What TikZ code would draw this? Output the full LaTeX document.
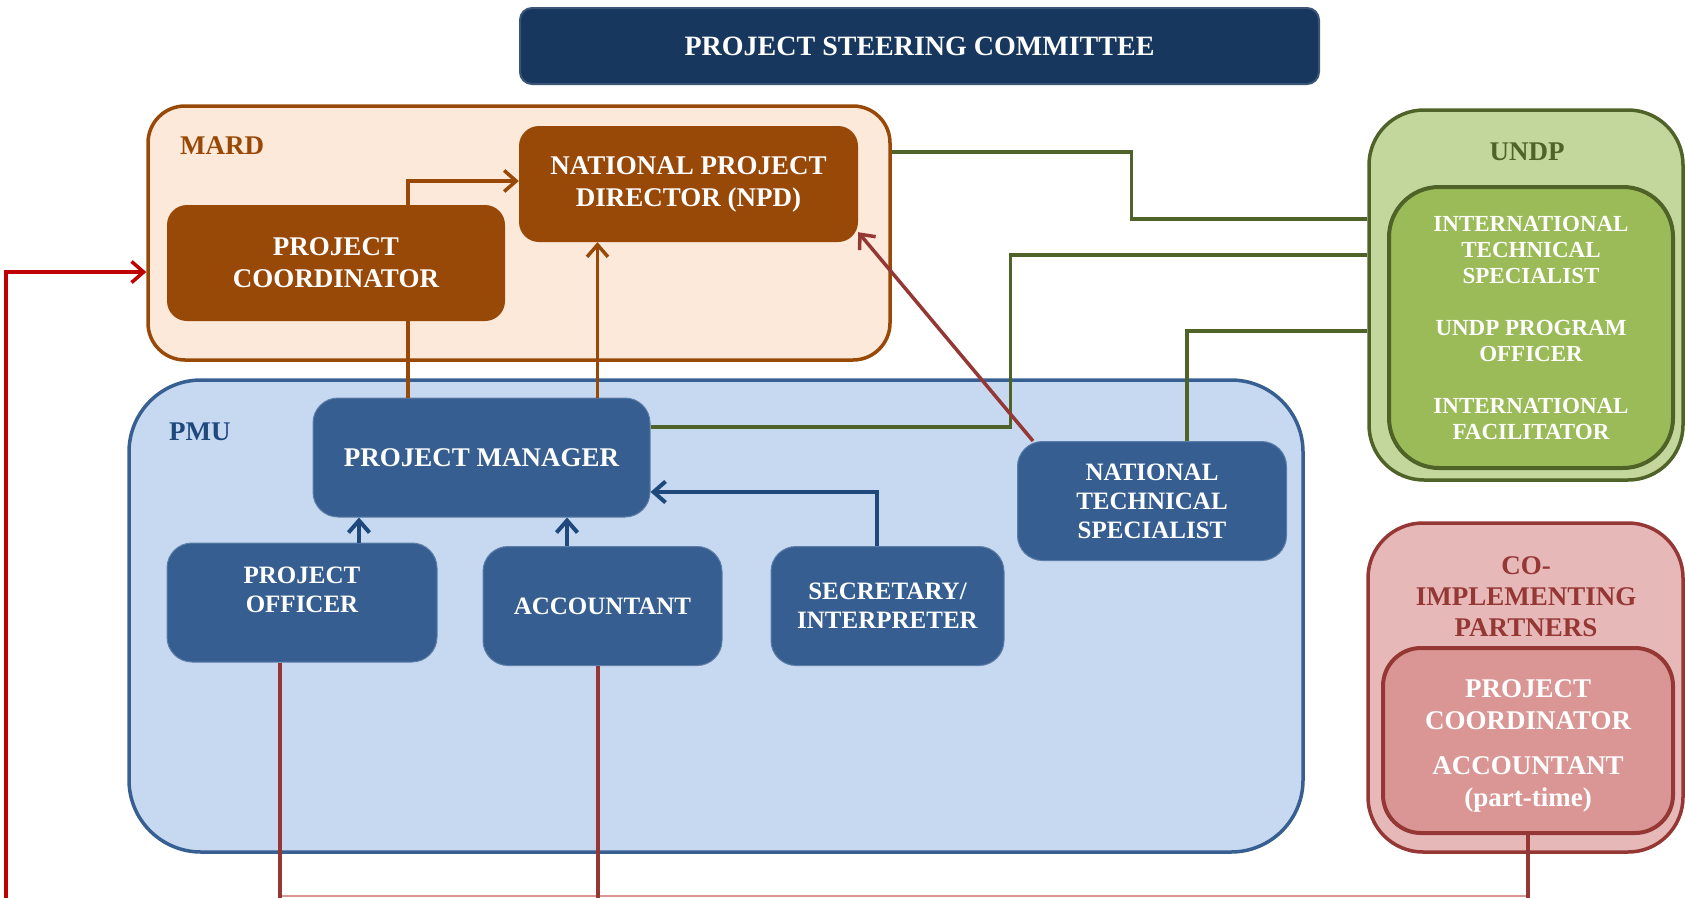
\documentclass[tikz,border=0pt]{standalone}
\usepackage{fontspec}
\setmainfont{Liberation Serif}
\usetikzlibrary{arrows.meta, positioning, calc}

\definecolor{navy}{RGB}{23,55,94}
\definecolor{brn}{RGB}{152,72,7}
\definecolor{peach}{RGB}{253,233,217}
\definecolor{pmufill}{RGB}{198,217,241}
\definecolor{pmuline}{RGB}{56,95,145}
\definecolor{bluebox}{RGB}{54,94,145}
\definecolor{dblu}{RGB}{31,73,125}
\definecolor{grn}{RGB}{79,98,40}
\definecolor{undpout}{RGB}{195,214,155}
\definecolor{undpin}{RGB}{155,187,89}
\definecolor{cored}{RGB}{149,55,53}
\definecolor{coout}{RGB}{230,185,184}
\definecolor{coin}{RGB}{217,150,148}
\definecolor{brightred}{RGB}{192,0,0}

\begin{document}
\begin{tikzpicture}[x=1pt, y=-1pt,
  >={Straight Barb[length=12pt,width=21pt]},
  grp/.style={inner sep=0pt, align=center, font=\fontsize{27}{31}\selectfont\bfseries},
  grpbox/.style={inner sep=0pt, line width=3.5pt},
  unit/.style={inner sep=0pt, align=center, text=white, font=\fontsize{27}{32}\selectfont\bfseries},
  mardbox/.style={unit, fill=brn, rounded corners=20pt, minimum width=338pt, minimum height=116pt},
  pmubox/.style={unit, fill=bluebox, draw=bluebox!80!white, line width=1pt, rounded corners=25pt, minimum height=119pt},
  small/.style={font=\fontsize{25}{29}\selectfont\bfseries},
  link/.style={line width=3.5pt},
  brnlink/.style={link, draw=brn},
  grnlink/.style={link, draw=grn},
  blulink/.style={link, line width=4pt, draw=dblu},
  drdlink/.style={link, draw=cored},
  pnklink/.style={line width=2pt, draw=coin},
  redlink/.style={link, draw=brightred}]
  \useasboundingbox (0,0) rectangle (1685,897);
  \clip (0,0) rectangle (1685,897);

  \node[unit, fill=navy, draw=navy!85!white, line width=2pt, rounded corners=12pt,
        minimum width=799pt, minimum height=76pt, font=\fontsize{28}{32}\selectfont\bfseries]
        (psc) at (919.5,46) {PROJECT STEERING COMMITTEE};

  \node[grpbox, draw=brn, fill=peach, rounded corners=37pt, minimum width=742pt, minimum height=254pt] (mard) at (519,233) {};
  \node[grpbox, draw=pmuline, fill=pmufill, rounded corners=72pt, minimum width=1174pt, minimum height=472pt] (pmu) at (716,616) {};
  \node[grpbox, draw=grn, fill=undpout, rounded corners=55pt, minimum width=314pt, minimum height=370pt] (undp) at (1526,295) {};
  \node[grpbox, draw=cored, fill=coout, rounded corners=55pt, minimum width=315pt, minimum height=329pt] (co) at (1525.5,687.5) {};

  \node[grp, text=brn, anchor=west] (mardlbl) at (180,146) {MARD};
  \node[grp, text=dblu, anchor=west] (pmulbl) at (169,432) {PMU};
  \node[grp, text=grn] (undplbl) at (1527,152) {UNDP};
  \node[grp, text=cored] (colbl) at (1526,597) {CO-\\IMPLEMENTING\\PARTNERS};

  \node[mardbox, minimum width=339pt] (npd) at (688.5,184) {NATIONAL PROJECT\\DIRECTOR (NPD)};
  \node[mardbox] (pcm) at (336,263) {PROJECT\\COORDINATOR};

  \node[pmubox, minimum width=337pt] (pm) at (481.5,457.5) {PROJECT MANAGER};
  \node[pmubox, minimum width=270pt] (po) at (302,602.5) {};
  \node[unit, small] (potxt) at (302,590) {PROJECT\\OFFICER};
  \node[pmubox, small, minimum width=239pt] (acc) at (602.5,606) {ACCOUNTANT};
  \node[pmubox, small, minimum width=233pt] (sec) at (887.5,606) {SECRETARY/\\INTERPRETER};
  \node[pmubox, small, minimum width=269pt] (nts) at (1152,501) {NATIONAL\\TECHNICAL\\SPECIALIST};

  \node[unit, draw=grn, fill=undpin, line width=4pt, rounded corners=50pt,
        minimum width=284pt, minimum height=281pt, font=\fontsize{23}{26}\selectfont\bfseries]
        (undpin) at (1531,327.5) {INTERNATIONAL\\TECHNICAL\\SPECIALIST\\[26pt]UNDP PROGRAM\\OFFICER\\[26pt]INTERNATIONAL\\FACILITATOR};
  \node[unit, draw=cored, fill=coin, line width=4pt, rounded corners=38pt,
        minimum width=290pt, minimum height=185pt] (coin) at (1528,740.5) {};
  \node[unit] (cotxt) at (1528,745.5) {PROJECT\\COORDINATOR\\[13pt]ACCOUNTANT\\(part-time)};

  \coordinate (base) at (0,896);
  \coordinate (edge) at (6,900);

  \draw[brnlink,->] ([xshift=72pt]pcm.north) |- ([yshift=3pt]npd.west);
  \draw[brnlink] ([xshift=72pt]pcm.south) -- ([xshift=72pt]pcm.south |- pm.north);
  \draw[brnlink,->] ([xshift=116pt]pm.north) -- ([xshift=116pt]pm.north |- npd.south);

  \draw[grnlink] ([yshift=81pt]mard.east) -- ++(239.5,0) |- ([yshift=76pt]undp.west);
  \draw[grnlink] ([yshift=30.5pt]pm.east) -- ++(360,0) |- ([yshift=40pt]undp.west);
  \draw[grnlink] ([xshift=35pt]nts.north) |- ([yshift=-36pt]undp.west);

  \draw[drdlink,->] ([xshift=16pt]nts.north west) -- ([yshift=10pt]npd.south east);

  \draw[blulink,->] ([xshift=57pt]po.north) -- ([xshift=57pt]po.north |- pm.south);
  \draw[blulink,->] ([xshift=-35.5pt]acc.north) -- ([xshift=-35.5pt]acc.north |- pm.south);
  \draw[blulink,->] ([xshift=-11pt]sec.north) |- ([yshift=-34.5pt]pm.east);

  \draw[pnklink] ([xshift=-22pt]po.south |- base) -- (coin.south |- base);
  \draw[drdlink, shorten >=-3pt] ([xshift=-22pt]po.south) -- ([xshift=-22pt]po.south |- base);
  \draw[drdlink, shorten >=-3pt] ([xshift=-4.5pt]acc.south) -- ([xshift=-4.5pt]acc.south |- base);
  \draw[drdlink, shorten >=-3pt] (coin.south) -- (coin.south |- base);

  \draw[redlink,->] (edge) |- ([yshift=-39pt]mard.west);
\end{tikzpicture}
\end{document}
